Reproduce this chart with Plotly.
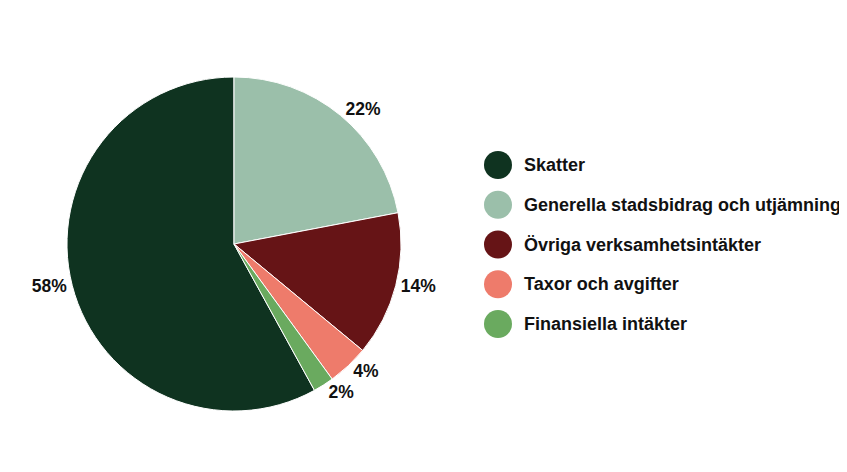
import plotly.graph_objects as go

labels = ["Skatter", "Generella stadsbidrag och utjämning", "Övriga verksamhetsintäkter",
          "Taxor och avgifter", "Finansiella intäkter"]
values = [58, 22, 14, 4, 2]
colors = ["#0f3320", "#9bbfaa", "#661416", "#ee7b6b", "#6aaa5f"]

W, H = 847, 472
OFF = 8  # page body margin offset
font_family = "Liberation Sans, Arial, sans-serif"

rotation = 360 * (1 - values[0] / sum(values))
dom_x = [(67 - OFF) / W, (401 - OFF) / W]
dom_y = [(H - (411 - OFF)) / H, (H - (77 - OFF)) / H]

fig = go.Figure()
fig.add_trace(go.Pie(
    labels=labels, values=values, sort=False, direction="clockwise",
    rotation=rotation,
    marker=dict(colors=colors, line=dict(color="white", width=1)),
    textinfo="percent", textposition="outside",
    textfont=dict(family=font_family, size=17.5, color="#111111", weight="bold"),
    showlegend=False,
    domain=dict(x=dom_x, y=dom_y),
    hoverinfo="label+percent",
))

# custom legend with round markers
cx, cy0, dy = 498 - OFF, 165 - OFF, 39.75
shapes, annotations = [], []
for i, (lab, col) in enumerate(zip(labels, colors)):
    ypx = cy0 + i * dy
    shapes.append(dict(type="circle", xref="paper", yref="paper",
                       xsizemode="pixel", ysizemode="pixel",
                       xanchor=cx / W, yanchor=1 - ypx / H,
                       x0=-14, x1=14, y0=-14, y1=14,
                       fillcolor=col, line=dict(width=0)))
    annotations.append(dict(x=(522 - OFF) / W, y=1 - ypx / H, xref="paper", yref="paper",
                            xanchor="left", yanchor="middle", showarrow=False,
                            text="<b>" + lab + "</b>",
                            font=dict(family=font_family, size=18, color="#111111")))

fig.update_layout(
    width=W, height=H,
    margin=dict(l=0, r=0, t=0, b=0),
    paper_bgcolor="white", plot_bgcolor="white",
    shapes=shapes, annotations=annotations,
)

fig.write_html("out.html")
